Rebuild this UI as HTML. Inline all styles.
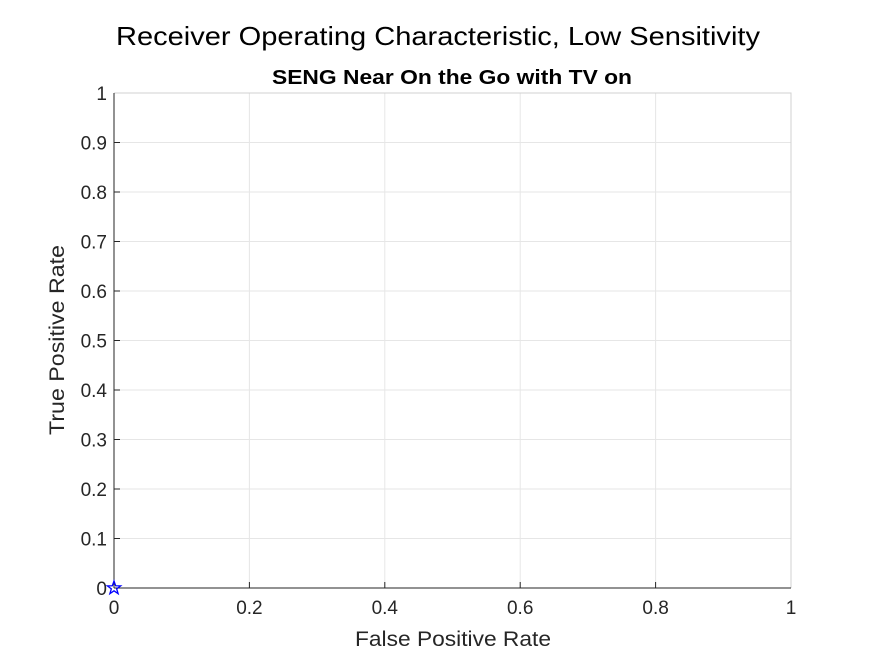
<!DOCTYPE html>
<html><head><meta charset="utf-8"><style>
body{margin:0;background:#fff;}
svg text{font-family:"Liberation Sans",sans-serif;}
</style></head><body>
<svg id="chart" width="875" height="656" xmlns="http://www.w3.org/2000/svg">
<rect width="875" height="656" fill="#fff"/>
<text x="438" y="45" font-size="26" text-anchor="middle" textLength="644" lengthAdjust="spacingAndGlyphs" fill="#000">Receiver Operating Characteristic, Low Sensitivity</text>
<text x="452" y="84" font-size="20" font-weight="bold" text-anchor="middle" textLength="360" lengthAdjust="spacingAndGlyphs" fill="#000">SENG Near On the Go with TV on</text>
<g id="grid"></g>
<g id="axes"></g>
<g id="marks"></g>
<text x="453" y="646" font-size="21" text-anchor="middle" textLength="196" lengthAdjust="spacingAndGlyphs" fill="#262626">False Positive Rate</text>
<text transform="translate(64,340) rotate(-90)" font-size="21" text-anchor="middle" textLength="190" lengthAdjust="spacingAndGlyphs" fill="#262626">True Positive Rate</text>
</svg>
<script>
const xTicks=[0,0.2,0.4,0.6,0.8,1];
const yTicks=[0,0.1,0.2,0.3,0.4,0.5,0.6,0.7,0.8,0.9,1];
const fprValues=[0];
const tprValues=[0];
const L=114,R=791,T=93,B=588;
const xs=v=>L+v*(R-L), ys=v=>B-v*(B-T);
const NS="http://www.w3.org/2000/svg";
function mk(tag,attrs,parent){const e=document.createElementNS(NS,tag);for(const k in attrs)e.setAttribute(k,attrs[k]);parent.appendChild(e);return e;}
const gridG=document.getElementById('grid'),axesG=document.getElementById('axes'),marksG=document.getElementById('marks');
xTicks.forEach(t=>{
 const l=mk('line',{x1:xs(t),x2:xs(t),y1:T,y2:B,stroke:'#e6e6e6','stroke-width':1},gridG);
 
 
 mk('line',{x1:xs(t),x2:xs(t),y1:B,y2:B-6,stroke:'#262626'},axesG);
 const tx=mk('text',{x:xs(t),y:B+26,'font-size':19,'text-anchor':'middle',fill:'#262626'},axesG);
 tx.textContent=String(t);
 
 
});
yTicks.forEach(t=>{
 const l=mk('line',{x1:L,x2:R,y1:ys(t),y2:ys(t),stroke:'#e6e6e6','stroke-width':1},gridG);
 
 
 mk('line',{x1:L,x2:L+6,y1:ys(t),y2:ys(t),stroke:'#262626'},axesG);
 const tx=mk('text',{x:L-7,y:ys(t)+7,'font-size':19,'text-anchor':'end',fill:'#262626'},axesG);
 tx.textContent=String(t);
 
 
});
const boxPath=mk('path',{d:`M${L} ${T}H${R}V${B}`,fill:'none',stroke:'#d0d0d0'},axesG);


const xa=mk('line',{x1:L,x2:R,y1:B,y2:B,stroke:'#262626'},axesG);


const ya=mk('line',{x1:L,x2:L,y1:T,y2:B,stroke:'#262626'},axesG);


function star(cx,cy,r){let p=[];for(let i=0;i<10;i++){const a=-Math.PI/2+i*Math.PI/5,rr=i%2?r*0.4:r;p.push((cx+rr*Math.cos(a)).toFixed(2)+','+(cy+rr*Math.sin(a)).toFixed(2));}return p.join(' ');}
fprValues.forEach((v,i)=>{
 const s=mk('polygon',{points:star(xs(v),ys(tprValues[i]),7),fill:'none',stroke:'#0000ff','stroke-width':1.3},marksG);
 
 
});
</script>
</body></html>
